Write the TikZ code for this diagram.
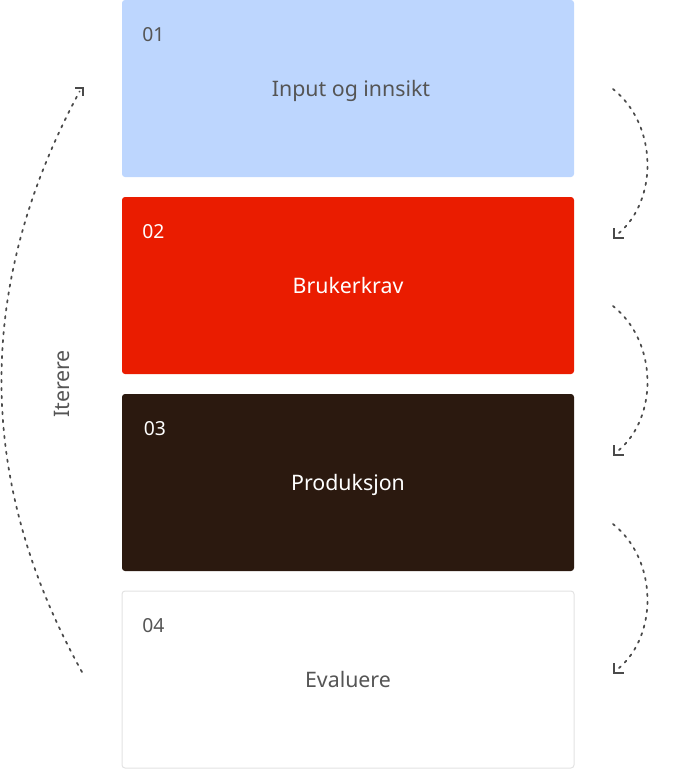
\documentclass[tikz,border=0pt]{standalone}
\usepackage{fontspec}
\setmainfont{Noto Sans}
\definecolor{boxblue}{HTML}{BDD6FE}
\definecolor{boxred}{HTML}{EA1C00}
\definecolor{boxdark}{HTML}{2B190F}
\definecolor{boxline}{HTML}{E3E3E3}
\definecolor{txtgray}{HTML}{555555}
\definecolor{arcgray}{HTML}{4A4A4A}
\begin{document}
\begin{tikzpicture}[x=0.75pt,y=-0.75pt,
  box/.style={rectangle, rounded corners=2.25pt, inner sep=0pt,
    minimum width=339pt, minimum height=132.75pt},
  numtxt/.style={anchor=base west, inner sep=0pt, font=\fontsize{14.5pt}{17pt}\selectfont},
  maintxt/.style={anchor=base, inner sep=0pt, font=\fontsize{16pt}{19pt}\selectfont},
  arcline/.style={draw=arcgray, line width=1.3pt, line cap=round,
    dash pattern=on 1.8pt off 4.2pt},
  tipline/.style={draw=arcgray, line width=1.2pt, line cap=butt, line join=miter}
]
\useasboundingbox (0,0) rectangle (699,769);

% boxes
\node[box, fill=boxblue] (b1) at (348,88.5) {};
\node[box, fill=boxred] (b2) at (348,285.5) {};
\node[box, fill=boxdark] (b3) at (348,482.5) {};
\node[box, fill=white, draw=boxline, line width=0.75pt] (b4) at (348,679.5) {};

% numbers
\node[numtxt, text=txtgray] (n1) at (142,41) {01};
\node[numtxt, text=white] (n2) at (142,238) {02};
\node[numtxt, text=white] (n3) at (143.5,435) {03};
\node[numtxt, text=txtgray] (n4) at (142,632) {04};

% labels
\node[maintxt, text=txtgray] (t1) at (351,96) {Input og innsikt};
\node[maintxt, text=white] (t2) at (348,293) {Brukerkrav};
\node[maintxt, text=white] (t3) at (348,490) {Produksjon};
\node[maintxt, text=txtgray] (t4) at (348,687) {Evaluere};

% Iterere label
\node[rotate=90, inner sep=0pt, text=txtgray, font=\fontsize{16pt}{19pt}\selectfont] (it) at (62,384) {Iterere};

% right arcs
\coordinate (r1s) at (613,89);  \coordinate (r1e) at (614,238);
\coordinate (r2s) at (613,306); \coordinate (r2e) at (614,455);
\coordinate (r3s) at (613,524); \coordinate (r3e) at (614,673);
\foreach \s/\e in {r1s/r1e, r2s/r2e, r3s/r3e}{
  \path[arcline] (\s) .. controls ([xshift=33.75pt,yshift=-27pt]\s) and ([xshift=33pt,yshift=28.5pt]\e) .. ([xshift=3.5pt,yshift=3.5pt]\e);
  \path[tipline] ([yshift=7.5pt]\e) -- (\e) -- ([xshift=7.5pt]\e);
}

% left arc
\coordinate (ls) at (82,672);
\coordinate (le) at (83,88);
\path[arcline] (ls) .. controls (-25,480) and (-25,285) .. ([xshift=-2.5pt,yshift=-2.5pt]le);
\path[tipline] ([xshift=-6pt]le) -- (le) -- ([yshift=-6pt]le);
\end{tikzpicture}
\end{document}
